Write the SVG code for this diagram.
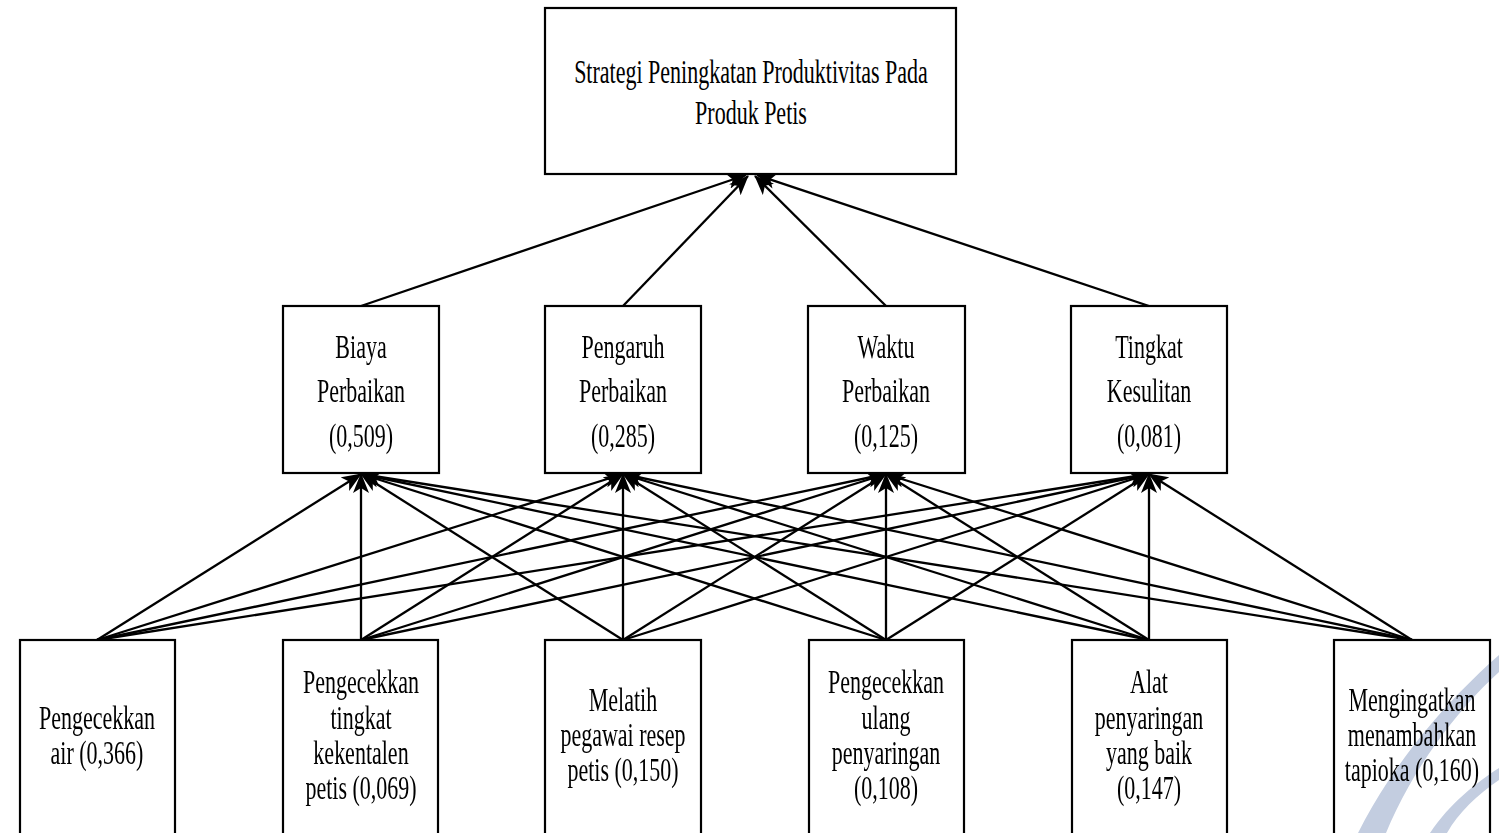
<svg xmlns="http://www.w3.org/2000/svg" width="1499" height="833" viewBox="0 0 1499 833">
<style>
.box{fill:#fff;stroke:#000;stroke-width:2.2}
.t{font-family:"Liberation Serif","Times New Roman",serif;font-size:33px;fill:#000;text-anchor:middle}
.c{stroke:#000;stroke-width:2.3;fill:none;marker-end:url(#ah)}
</style>
<defs>
<marker id="ah" markerUnits="userSpaceOnUse" markerWidth="22" markerHeight="16" refX="19" refY="8" orient="auto" viewBox="0 0 22 16">
<path d="M0,0 L20,8 L0,16 L5,8 z" fill="#000"/>
</marker>
</defs>
<g id="connectors">
<line class="c" x1="361" y1="306" x2="746" y2="175"/>
<line class="c" x1="623" y1="306" x2="748" y2="176"/>
<line class="c" x1="886" y1="306" x2="755" y2="176"/>
<line class="c" x1="1149" y1="306" x2="757" y2="175"/>

<line class="c" x1="97" y1="640" x2="361" y2="474"/>
<line class="c" x1="97" y1="640" x2="623" y2="474"/>
<line class="c" x1="97" y1="640" x2="886" y2="474"/>
<line class="c" x1="97" y1="640" x2="1149" y2="474"/>

<line class="c" x1="361" y1="640" x2="361" y2="474"/>
<line class="c" x1="361" y1="640" x2="623" y2="474"/>
<line class="c" x1="361" y1="640" x2="886" y2="474"/>
<line class="c" x1="361" y1="640" x2="1149" y2="474"/>

<line class="c" x1="623" y1="640" x2="361" y2="474"/>
<line class="c" x1="623" y1="640" x2="623" y2="474"/>
<line class="c" x1="623" y1="640" x2="886" y2="474"/>
<line class="c" x1="623" y1="640" x2="1149" y2="474"/>

<line class="c" x1="886" y1="640" x2="361" y2="474"/>
<line class="c" x1="886" y1="640" x2="623" y2="474"/>
<line class="c" x1="886" y1="640" x2="886" y2="474"/>
<line class="c" x1="886" y1="640" x2="1149" y2="474"/>

<line class="c" x1="1149" y1="640" x2="361" y2="474"/>
<line class="c" x1="1149" y1="640" x2="623" y2="474"/>
<line class="c" x1="1149" y1="640" x2="886" y2="474"/>
<line class="c" x1="1149" y1="640" x2="1149" y2="474"/>

<line class="c" x1="1412" y1="640" x2="361" y2="474"/>
<line class="c" x1="1412" y1="640" x2="623" y2="474"/>
<line class="c" x1="1412" y1="640" x2="886" y2="474"/>
<line class="c" x1="1412" y1="640" x2="1149" y2="474"/>
</g>
<g id="goal">
<rect class="box" x="545" y="8" width="411" height="166"/>
<text class="t" transform="translate(751,0) scale(0.667,1)" y="83">Strategi Peningkatan Produktivitas Pada</text>
<text class="t" transform="translate(751,0) scale(0.667,1)" y="124">Produk Petis</text>
</g>
<g id="biaya">
<rect class="box" x="283" y="306" width="156" height="167"/>
<text class="t" transform="translate(361,0) scale(0.667,1)" y="358">Biaya</text>
<text class="t" transform="translate(361,0) scale(0.667,1)" y="402">Perbaikan</text>
<text class="t" transform="translate(361,0) scale(0.667,1)" y="447">(0,509)</text>
</g>
<g id="pengaruh">
<rect class="box" x="545" y="306" width="156" height="167"/>
<text class="t" transform="translate(623,0) scale(0.667,1)" y="358">Pengaruh</text>
<text class="t" transform="translate(623,0) scale(0.667,1)" y="402">Perbaikan</text>
<text class="t" transform="translate(623,0) scale(0.667,1)" y="447">(0,285)</text>
</g>
<g id="waktu">
<rect class="box" x="808" y="306" width="157" height="167"/>
<text class="t" transform="translate(886,0) scale(0.667,1)" y="358">Waktu</text>
<text class="t" transform="translate(886,0) scale(0.667,1)" y="402">Perbaikan</text>
<text class="t" transform="translate(886,0) scale(0.667,1)" y="447">(0,125)</text>
</g>
<g id="tingkat">
<rect class="box" x="1071" y="306" width="156" height="167"/>
<text class="t" transform="translate(1149,0) scale(0.667,1)" y="358">Tingkat</text>
<text class="t" transform="translate(1149,0) scale(0.667,1)" y="402">Kesulitan</text>
<text class="t" transform="translate(1149,0) scale(0.667,1)" y="447">(0,081)</text>
</g>
<g id="alt1">
<rect class="box" x="20" y="640" width="155" height="210"/>
<text class="t" transform="translate(97,0) scale(0.667,1)" y="729">Pengecekkan</text>
<text class="t" transform="translate(97,0) scale(0.667,1)" y="764">air (0,366)</text>
</g>
<g id="alt2">
<rect class="box" x="283" y="640" width="155" height="210"/>
<text class="t" transform="translate(361,0) scale(0.667,1)" y="693">Pengecekkan</text>
<text class="t" transform="translate(361,0) scale(0.667,1)" y="729">tingkat</text>
<text class="t" transform="translate(361,0) scale(0.667,1)" y="764">kekentalen</text>
<text class="t" transform="translate(361,0) scale(0.667,1)" y="799">petis (0,069)</text>
</g>
<g id="alt3">
<rect class="box" x="545" y="640" width="156" height="210"/>
<text class="t" transform="translate(623,0) scale(0.667,1)" y="711">Melatih</text>
<text class="t" transform="translate(623,0) scale(0.667,1)" y="746">pegawai resep</text>
<text class="t" transform="translate(623,0) scale(0.667,1)" y="781">petis (0,150)</text>
</g>
<g id="alt4">
<rect class="box" x="809" y="640" width="155" height="210"/>
<text class="t" transform="translate(886,0) scale(0.667,1)" y="693">Pengecekkan</text>
<text class="t" transform="translate(886,0) scale(0.667,1)" y="729">ulang</text>
<text class="t" transform="translate(886,0) scale(0.667,1)" y="764">penyaringan</text>
<text class="t" transform="translate(886,0) scale(0.667,1)" y="799">(0,108)</text>
</g>
<g id="alt5">
<rect class="box" x="1072" y="640" width="155" height="210"/>
<text class="t" transform="translate(1149,0) scale(0.667,1)" y="693">Alat</text>
<text class="t" transform="translate(1149,0) scale(0.667,1)" y="729">penyaringan</text>
<text class="t" transform="translate(1149,0) scale(0.667,1)" y="764">yang baik</text>
<text class="t" transform="translate(1149,0) scale(0.667,1)" y="799">(0,147)</text>
</g>
<g id="alt6">
<rect class="box" x="1334" y="640" width="156" height="210"/>
<text class="t" transform="translate(1412,0) scale(0.667,1)" y="711">Mengingatkan</text>
<text class="t" transform="translate(1412,0) scale(0.667,1)" y="746">menambahkan</text>
<text class="t" transform="translate(1412,0) scale(0.667,1)" y="781">tapioka (0,160)</text>
</g>
<g id="watermark" fill="#c3cde0" style="mix-blend-mode:multiply">
<path d="M1358,833 C1395,760 1448,700 1499,655 L1499,672 C1455,712 1412,770 1386,833 z"/>
<path d="M1430,833 C1450,803 1476,783 1499,768 L1499,780 C1478,794 1458,813 1447,833 z"/>
</g>
</svg>
